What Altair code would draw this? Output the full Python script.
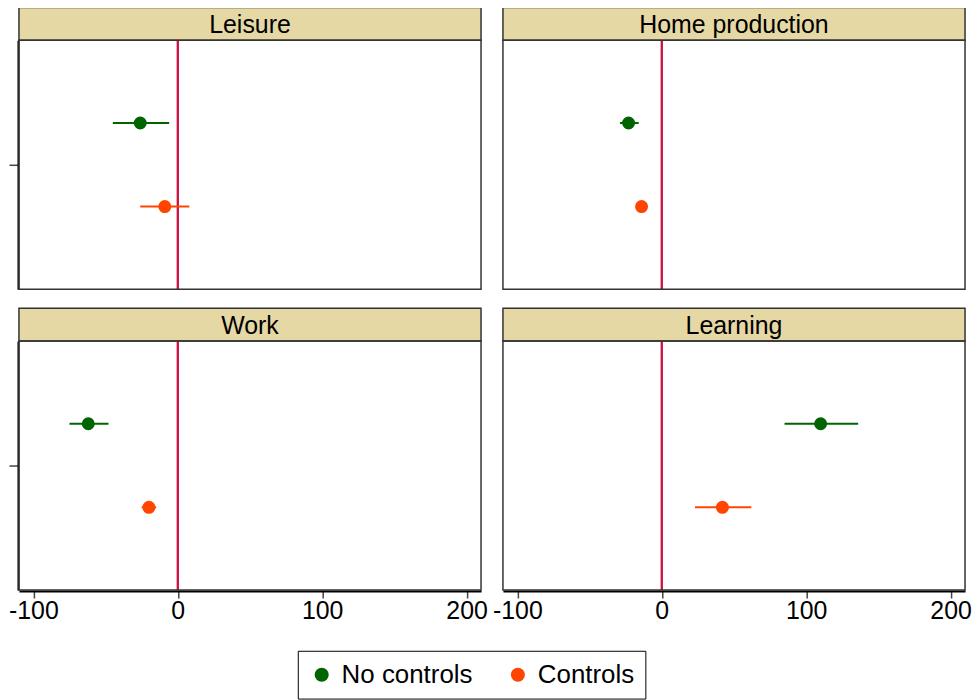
import altair as alt
import pandas as pd

categories = ["Leisure", "Home production", "Work", "Learning"]
series_names = ["No controls", "Controls"]

# point estimates and confidence bounds, per category (order as above)
est_no_controls = [-26, -23, -62, 110]
lo_no_controls = [-45, -29, -75, 85]
hi_no_controls = [-6, -16, -48, 136]

est_controls = [-9, -14, -20, 42]
lo_controls = [-26, -17, -25, 23]
hi_controls = [8, -11, -15, 62]

x_ticks = [-100, 0, 100, 200]

rows = []
for i, c in enumerate(categories):
    rows.append({"category": c, "series": "No controls", "est": est_no_controls[i],
                 "lo": lo_no_controls[i], "hi": hi_no_controls[i]})
    rows.append({"category": c, "series": "Controls", "est": est_controls[i],
                 "lo": lo_controls[i], "hi": hi_controls[i]})
df = pd.DataFrame(rows)

W = 464
H = 250
HDR = 33
colors = ["#006400", "#ff4500"]
FONT = "Liberation Sans"

xscale = alt.Scale(domain=[-110, 210], nice=False, zero=False)
xaxis = alt.Axis(values=x_ticks, title=None, grid=False, labelFontSize=25, labelFont=FONT,
                 labelColor="black", tickColor="#444", tickSize=7, tickWidth=1.5,
                 domainColor="black", domainWidth=2, labelPadding=1,
                 labelExpr="'' + datum.value")
yenc = alt.Y("grp:N", title=None, scale=alt.Scale(paddingInner=0, paddingOuter=0),
             axis=alt.Axis(labels=False, ticks=True, tickSize=9, tickColor="#444", tickWidth=1.5,
                           domainColor="black", domainWidth=2, grid=False))
yoff = alt.YOffset("series:N", sort=series_names,
                   scale=alt.Scale(domain=series_names, paddingInner=0, paddingOuter=0.49))
cscale = alt.Scale(domain=series_names, range=colors)

base = alt.Chart().transform_calculate(grp="'a'")
once = base.transform_filter(alt.datum.series == "No controls")

header_rect = once.mark_rect(
    fill="#e5d8a5", stroke="#333", strokeWidth=1.5
).encode(x=alt.value(0), x2=alt.value(W), y=alt.value(-HDR), y2=alt.value(0))

header_text = once.mark_text(
    fontSize=25, font=FONT, color="black", baseline="middle", align="center"
).encode(x=alt.value(W / 2), y=alt.value(-HDR / 2 + 1), text="category:N")

border = once.mark_rect(
    fill=None, filled=False, stroke="#333", strokeWidth=1.5
).encode(x=alt.value(0), x2=alt.value(W), y=alt.value(0), y2=alt.value(H))

zero_rule = alt.Chart().mark_rule(color="#cc1040", strokeWidth=2).encode(
    x=alt.datum(0, scale=xscale, axis=xaxis)
)

bars = base.mark_rule(strokeWidth=2).encode(
    x=alt.X("lo:Q", scale=xscale, axis=xaxis),
    x2="hi:Q",
    y=yenc,
    yOffset=yoff,
    color=alt.Color("series:N", scale=cscale),
)

points = base.mark_circle(size=170, opacity=1).encode(
    x=alt.X("est:Q", scale=xscale, axis=xaxis),
    y=yenc,
    yOffset=yoff,
    color=alt.Color("series:N", scale=cscale),
)

layer = alt.layer(header_rect, header_text, zero_rule, bars, points, border, data=df).properties(
    width=W, height=H
)

chart = layer.facet(
    facet=alt.Facet("category:N", sort=categories,
                    header=alt.Header(labels=False, title=None, labelPadding=0,
                                      labelFontSize=1, labelExpr="''")),
    columns=2,
    spacing={"row": 16, "column": 20},
).configure(
    background="white", padding={"top": -4, "left": 0, "right": 0, "bottom": 0}
).configure_view(stroke=None).configure_header(labels=False, title=None).configure_legend(
    title=None, orient="none", direction="horizontal", legendX=280, legendY=613,
    strokeColor="black", padding=11, labelFontSize=26, labelFont=FONT, labelColor="black",
    symbolType="circle", symbolSize=200, symbolOpacity=1, symbolStrokeWidth=0,
    columnPadding=32, labelOffset=7,
)

chart.save("out.html", embed_options={"renderer": "svg", "actions": False})
